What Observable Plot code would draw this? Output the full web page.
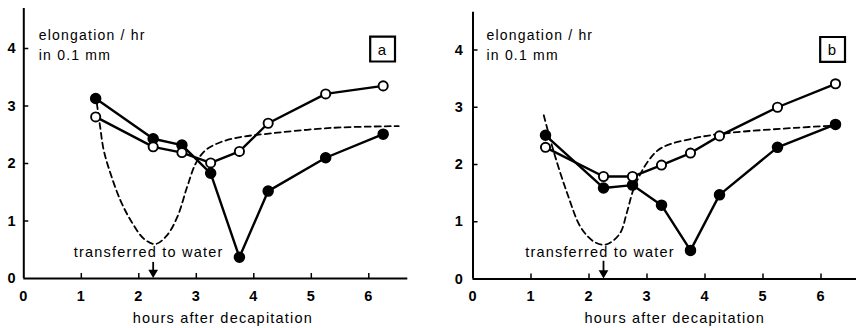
<!DOCTYPE html>
<html>
<head>
<meta charset="utf-8">
<script src="https://cdn.jsdelivr.net/npm/d3@7"></script>
<script src="https://cdn.jsdelivr.net/npm/@observablehq/plot@0.6"></script>
<style>
  body { margin: 0; background: #fff; }
  #wrap { position: relative; width: 856px; height: 328px; overflow: hidden; background: #fff; }
  #wrap svg { position: absolute; top: 0; }
</style>
</head>
<body>
<div id="wrap"></div>
<script>
// ---- data ----
const hours = [1.25, 2.25, 2.75, 3.25, 3.75, 4.25, 5.25, 6.25];
const aFilled = [3.13, 2.43, 2.32, 1.83, 0.37, 1.52, 2.1, 2.51];
const aOpen   = [2.81, 2.29, 2.19, 2.01, 2.21, 2.7, 3.21, 3.35];
const bFilled = [2.51, 1.59, 1.64, 1.29, 0.5, 1.47, 2.3, 2.7];
const bOpen   = [2.3, 1.79, 1.79, 1.99, 2.2, 2.5, 3.0, 3.41];

// dashed reference curves (hours, elongation)
const aCurveX = [1.27, 1.33, 1.39, 1.51, 1.68, 1.86, 2.09, 2.29, 2.49, 2.67, 2.84, 2.99, 3.16, 3.42, 3.77, 4.17, 5.37, 6.52];
const aCurveY = [3.05, 2.62, 2.23, 1.82, 1.36, 1.01, 0.69, 0.6, 0.75, 1.07, 1.59, 2.0, 2.23, 2.37, 2.46, 2.51, 2.62, 2.65];
const bCurveX = [1.22, 1.39, 1.63, 1.86, 2.09, 2.29, 2.53, 2.65, 2.78, 3.02, 3.25, 3.82, 4.4, 5.55, 6.22];
const bCurveY = [2.86, 2.23, 1.48, 0.9, 0.65, 0.6, 0.79, 1.15, 1.6, 2.06, 2.29, 2.46, 2.55, 2.64, 2.68];

const xTicks = [0, 1, 2, 3, 4, 5, 6];
const yTicks = [0, 1, 2, 3, 4];
const xLabel = "hours after decapitation";
const yLabel = "elongation / hr\nin 0.1 mm";
const noteText = "transferred to water";
const panelNames = ["a", "b"];
const noteX = [2.17, 2.19];
const noteY = [0.37, 0.38];
const arrowX = [2.25, 2.25];
const arrowTop = [0.28, 0.31];
const boxX = [6.24, 6.2];
const boxY = [3.99, 4.01];

// ---- drawing ----
const font = "'Liberation Sans', Arial, Helvetica, sans-serif";

function panel(p) {
  const filled = hours.map((h, i) => ({h, v: p.filled[i]}));
  const open = hours.map((h, i) => ({h, v: p.open[i]}));
  const curve = p.cx.map((h, i) => ({h, v: p.cy[i]}));
  const tickLen = 5 / p.unit;
  return Plot.plot({
    width: 428, height: 328,
    marginLeft: p.ml, marginRight: p.mr, marginTop: p.mt, marginBottom: p.mb,
    x: {domain: [0, p.xmax], axis: null},
    y: {domain: [0, p.ymax], axis: null},
    style: {fontFamily: font, background: "transparent", color: "#000", letterSpacing: "1.2px", overflow: "visible"},
    marks: [
      // axes lines
      Plot.ruleX([0], {stroke: "#000", strokeWidth: 2}),
      Plot.ruleY([0], {stroke: "#000", strokeWidth: 2}),
      // inward ticks
      Plot.ruleX(xTicks.slice(1), {x: d => d, y1: 0, y2: tickLen, stroke: "#000", strokeWidth: 1.5}),
      Plot.ruleY(yTicks.slice(1), {y: d => d, x1: 0, x2: tickLen, stroke: "#000", strokeWidth: 1.5}),
      // tick labels
      Plot.axisX(xTicks, {tickSize: 0, tickPadding: 12, fontSize: 14.5, fontWeight: "bold", label: null, tickFormat: d => String(d)}),
      Plot.axisY(yTicks, {tickSize: 0, tickPadding: p.ypad, fontSize: 14.5, fontWeight: "bold", label: null, tickFormat: d => String(d)}),
      // axis label
      Plot.text([xLabel], {frameAnchor: "bottom", dx: p.xlabDx, dy: 44, lineAnchor: "bottom", fontSize: 14.5, text: d => d}),
      Plot.text([yLabel], {frameAnchor: "top-left", dx: p.ylabDx, dy: p.ylabDy, lineAnchor: "top", textAnchor: "start", fontSize: 14, lineHeight: 1.48, text: d => d}),
      // dashed curve
      Plot.line(curve, {x: "h", y: "v", curve: "catmull-rom", stroke: "#000", strokeWidth: 1.8, strokeDasharray: "6,4"}),
      // series lines
      Plot.line(filled, {x: "h", y: "v", stroke: "#000", strokeWidth: 2.4}),
      Plot.line(open, {x: "h", y: "v", stroke: "#000", strokeWidth: 2.4}),
      Plot.dot(filled, {x: "h", y: "v", r: 5, fill: "#000", stroke: "#000"}),
      Plot.dot(open, {x: "h", y: "v", r: 4.6, fill: "#fff", stroke: "#000", strokeWidth: 1.9}),
      // annotation
      Plot.text([noteText], {x: () => p.noteX, y: () => p.noteY, text: d => d, lineAnchor: "bottom", fontSize: 14.5}),
      Plot.ruleX([p.arrowX], {x: d => d, y1: 0.1, y2: p.arrowTop, stroke: "#000", strokeWidth: 1.8}),
      Plot.dot([p.arrowX], {x: d => d, y: 0, symbol: "triangle", rotate: 180, r: 3.6, dy: -6, fill: "#000", stroke: "none"}),
      // panel label box
      Plot.dot([p.name], {x: () => p.boxX, y: () => p.boxY, symbol: "square", r: 14, fill: "#fff", stroke: "#000", strokeWidth: 2.2}),
      Plot.text([p.name], {x: () => p.boxX, y: () => p.boxY, text: d => d, fontSize: 15, dy: 1, letterSpacing: 0})
    ]
  });
}

const unitA = 57.5, unitB = 57.6;
const svgA = panel({
  name: panelNames[0], filled: aFilled, open: aOpen, cx: aCurveX, cy: aCurveY,
  ml: 23.3, mr: 20.7, mt: 8, mb: 50, xmax: (407.3 - 23.3) / unitA, ymax: 270 / unitA, unit: unitA,
  ypad: 7, xlabDx: 7, ylabDx: 15, ylabDy: 16.4,
  noteX: noteX[0], noteY: noteY[0], arrowX: arrowX[0], arrowTop: arrowTop[0], boxX: boxX[0], boxY: boxY[0]
});
const svgB = panel({
  name: panelNames[1], filled: bFilled, open: bOpen, cx: bCurveX, cy: bCurveY,
  ml: 44.5, mr: 0, mt: 11.7, mb: 49.5, xmax: 383.5 / 58, ymax: 266.8 / 57.25, unit: unitB,
  ypad: 9, xlabDx: 10, ylabDx: 13.5, ylabDy: 12.7,
  noteX: noteX[1], noteY: noteY[1], arrowX: arrowX[1], arrowTop: arrowTop[1], boxX: boxX[1], boxY: boxY[1]
});
svgA.style.left = "0px";
svgB.style.left = "428px";
const wrap = document.getElementById("wrap");
wrap.appendChild(svgA);
wrap.appendChild(svgB);
</script>
</body>
</html>
